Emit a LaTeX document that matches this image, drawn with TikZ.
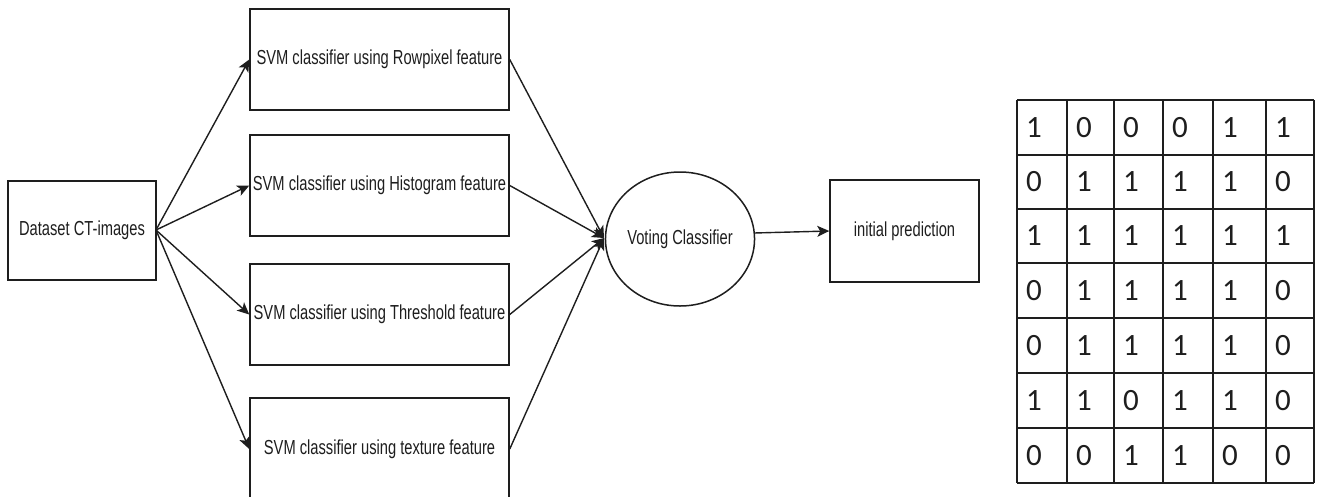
\documentclass[tikz,border=0pt]{standalone}
\usepackage{fontspec}
\usepackage{graphicx}
\setmainfont{Liberation Sans}
\newfontfamily\calfont{Carlito}
\usetikzlibrary{arrows.meta,shapes.geometric}
\definecolor{ink}{RGB}{30,30,30}
\newcommand{\tx}[1]{\scalebox{1}[1.38]{#1}}
\begin{document}
\begin{tikzpicture}[x=1pt,y=-1pt,
  every node/.style={text=ink},
  lbl/.style={font=\fontsize{14.7}{17}\selectfont},
  boxnode/.style={draw=ink, line width=1.5pt, rectangle, inner sep=0pt, lbl},
  conn/.style={draw=ink, line width=1.4pt, -{Stealth[length=12pt,width=11pt,inset=3pt]}},
  cell/.style={font=\calfont\fontsize{31}{32}\selectfont, inner sep=0pt, anchor=center},
  grid/.style={draw=ink, line width=1.5pt}
]
\useasboundingbox (0,0) rectangle (1321,496);
\fill[white] (0,0) rectangle (1321,496);

\node[boxnode, minimum width=148pt, minimum height=99pt] (data) at (82,230.5) {\tx{Dataset CT-images}};
\node[boxnode, minimum width=259pt, minimum height=101pt] (s1) at (379.5,59.5) {\tx{SVM classifier using Rowpixel feature}};
\node[boxnode, minimum width=259pt, minimum height=101pt] (s2) at (379.5,185.5) {\tx{SVM classifier using Histogram feature}};
\node[boxnode, minimum width=259pt, minimum height=101pt] (s3) at (379.5,314.5) {\tx{SVM classifier using Threshold feature}};
\node[boxnode, minimum width=259pt, minimum height=102pt] (s4) at (379.5,449) {\tx{SVM classifier using texture feature}};
\node[draw=ink, line width=1.5pt, ellipse, inner sep=0pt, minimum width=148pt, minimum height=134pt, lbl] (vote) at (680,239) {\tx{Voting Classifier}};
\node[boxnode, minimum width=149pt, minimum height=102pt] (init) at (904.5,231) {\tx{initial prediction}};

\coordinate (dout) at (156,230);
\coordinate (vin) at (604,238);
\foreach \s in {s1,s2,s3,s4} {
  \draw[conn] (dout) -- (\s.west);
  \draw[conn] (\s.east) -- (vin);
}
\coordinate (vout) at (754,233);
\draw[conn] (vout) -- (init.west);

% table
\foreach \xx in {1017,1067,1114,1163,1213,1266,1314} {
  \draw[grid] (\xx,100) -- (\xx,483);
}
\foreach \yy in {100,155,209,263,318,373,428,483} {
  \draw[grid] (1017,\yy) -- (1314,\yy);
}
\foreach \row/\cy [count=\r from 0] in {
  {1/1034,0/1084,0/1131,0/1180,1/1230,1/1283}/127.5,
  {0/1034,1/1084,1/1131,1/1180,1/1230,0/1283}/182,
  {1/1034,1/1084,1/1131,1/1180,1/1230,1/1283}/236,
  {0/1034,1/1084,1/1131,1/1180,1/1230,0/1283}/290.5,
  {0/1034,1/1084,1/1131,1/1180,1/1230,0/1283}/345.5,
  {1/1034,1/1084,0/1131,1/1180,1/1230,0/1283}/400.5,
  {0/1034,0/1084,1/1131,1/1180,0/1230,0/1283}/455.5} {
  \foreach \v/\cx [count=\c from 0] in \row {
    \node[cell] (t-\r-\c) at (\cx,\cy) {\v};
  }
}
\end{tikzpicture}
\end{document}
